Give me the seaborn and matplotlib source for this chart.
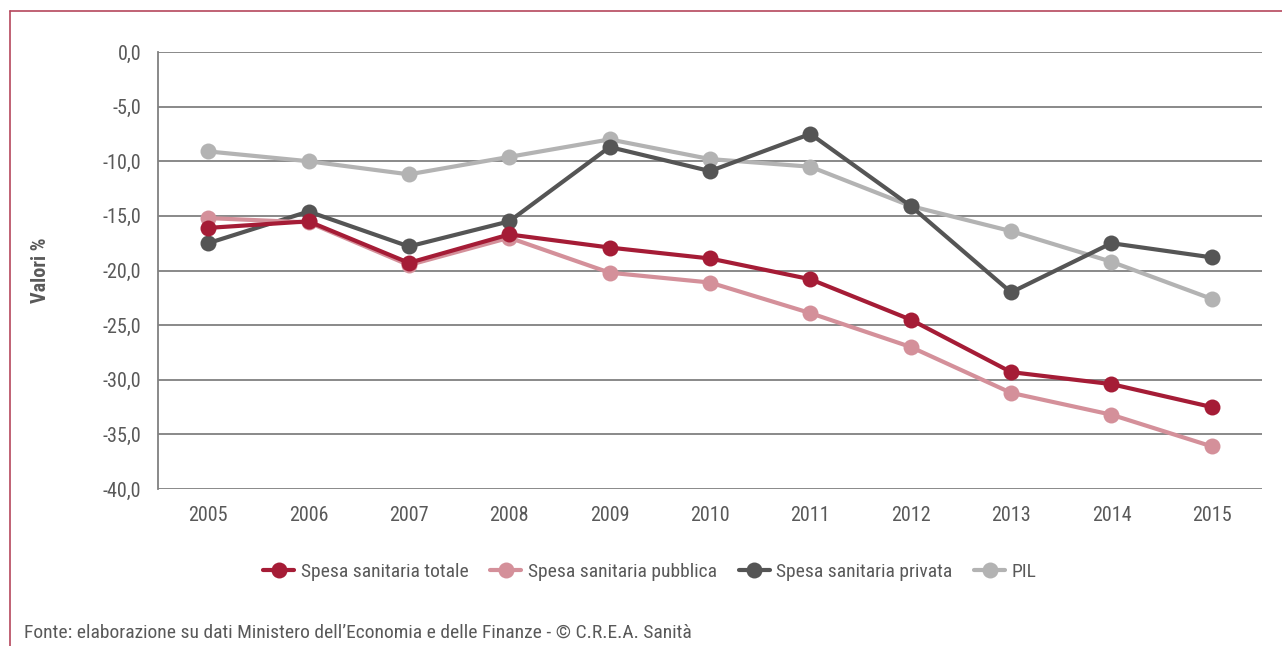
import matplotlib
matplotlib.use("Agg")
import matplotlib.pyplot as plt
import matplotlib.ticker as mticker
import pandas as pd
import seaborn as sns

# data (variazioni %)
anni = [2005, 2006, 2007, 2008, 2009, 2010, 2011, 2012, 2013, 2014, 2015]
spesa_totale = [-16.1, -15.5, -19.3, -16.7, -17.9, -18.9, -20.8, -24.5, -29.3, -30.4, -32.5]
spesa_pubblica = [-15.2, -15.6, -19.5, -17.0, -20.2, -21.1, -23.9, -27.0, -31.2, -33.2, -36.1]
spesa_privata = [-17.5, -14.6, -17.8, -15.5, -8.7, -10.9, -7.5, -14.1, -22.0, -17.5, -18.8]
pil = [-9.1, -10.0, -11.2, -9.6, -8.0, -9.8, -10.5, -14.1, -16.4, -19.2, -22.6]

serie = ["Spesa sanitaria totale", "Spesa sanitaria pubblica",
         "Spesa sanitaria privata", "PIL"]
colori = ["#a51c36", "#d4909a", "#555555", "#b3b3b3"]

df = pd.DataFrame({
    "anno": anni * 4,
    "valore": spesa_totale + spesa_pubblica + spesa_privata + pil,
    "serie": [s for s in serie for _ in anni],
})

sns.set_style("white")
plt.rcParams["font.family"] = ["Roboto Condensed", "Liberation Sans Narrow",
                               "Open Sans Condensed", "Roboto", "DejaVu Sans"]
txt = "#595959"

fig = plt.figure(figsize=(12.82, 6.46), dpi=100)
ax = fig.add_axes([158 / 1282, 1 - 489 / 646, (1262 - 158) / 1282, (489 - 52) / 646])

# draw order: grey lines first, red totals on top
for s, c in zip([serie[3], serie[2], serie[1], serie[0]],
                [colori[3], colori[2], colori[1], colori[0]]):
    sns.lineplot(data=df[df["serie"] == s], x="anno", y="valore", ax=ax,
                 color=c, linewidth=3, marker="o", markersize=11.5,
                 markeredgewidth=0, label=s)

ax.set_xlim(2004.5, 2015.5)
ax.set_ylim(-40, 0)
ax.set_xticks(anni)
ax.set_yticks(range(-40, 1, 5))
ax.yaxis.set_major_formatter(mticker.FuncFormatter(lambda v, p: f"{v:.1f}".replace(".", ",")))
ax.yaxis.grid(True, color="#808080", linewidth=1.3)
ax.set_axisbelow(True)
for side in ["top", "right", "bottom"]:
    ax.spines[side].set_visible(False)
ax.spines["left"].set_color("#808080")
ax.spines["left"].set_linewidth(1.3)
ax.tick_params(axis="both", length=0, labelsize=14.5, labelcolor=txt)
ax.tick_params(axis="y", pad=12)
ax.tick_params(axis="x", pad=12)
ax.set_xlabel("")
ax.set_ylabel("Valori %", fontsize=14.5, fontweight="bold", color=txt)
ax.yaxis.set_label_coords((50 - 158) / 1104, 0.5)

handles, labels = ax.get_legend_handles_labels()
order = [labels.index(s) for s in serie]
ax.legend([handles[i] for i in order], [labels[i] for i in order],
          loc="center", bbox_to_anchor=(650 / 1282, 1 - 572 / 646), bbox_transform=fig.transFigure,
          ncol=4, frameon=False, fontsize=14, labelcolor=txt,
          handlelength=1.6, columnspacing=1.1, handletextpad=0.35)

# outer frame (top and left)
fig.add_artist(plt.Line2D([10 / 1282, 1], [1 - 11 / 646, 1 - 11 / 646],
                          color="#b5475c", linewidth=1.2))
fig.add_artist(plt.Line2D([10 / 1282, 10 / 1282], [0, 1 - 11 / 646],
                          color="#b5475c", linewidth=1.2))

fig.text(24 / 1282, 1 - 633 / 646,
         "Fonte: elaborazione su dati Ministero dell\u2019Economia e delle Finanze - \u00a9 C.R.E.A. Sanit\u00e0",
         fontsize=14, color=txt, va="center", ha="left")

fig.savefig("out.png", dpi=100)
